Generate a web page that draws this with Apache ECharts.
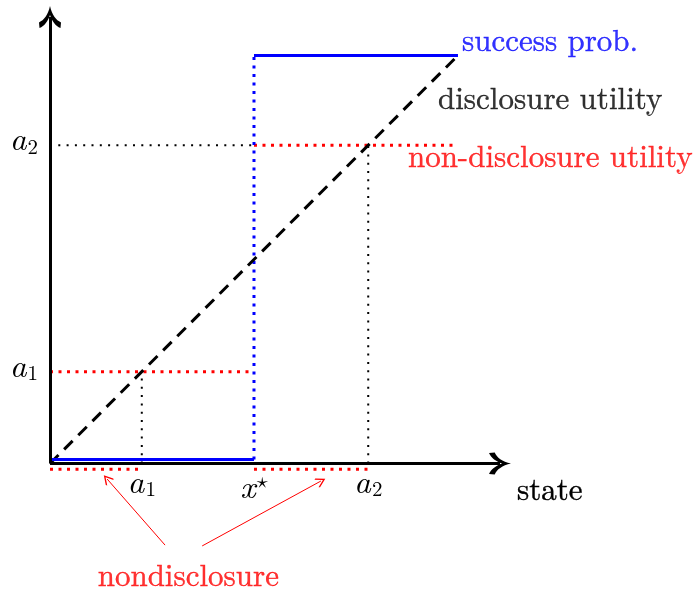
<!DOCTYPE html>
<html><head><meta charset="utf-8">
<script src="https://cdn.jsdelivr.net/npm/echarts@6/dist/echarts.min.js"></script>
<style>html,body{margin:0;padding:0;background:#fff}#c{width:695px;height:590px}</style>
</head><body><div id="c"></div>
<script>
// ---- data (state units) ----
const a1 = 2.25, a2 = 7.8, xStar = 5, topV = 10;
const axisExtent = [11.03, 10.94];            // x max, y max
const xTickValues = [a1, xStar, a2];
const yTickValues = [a1, a2];
const successLow  = [[0, 0.1], [xStar, 0.1]];
const successJump = [[xStar, 0.1], [xStar, topV]];
const successHigh = [[xStar, topV], [topV, topV]];
const disclosure  = [[0, 0], [topV, topV]];
const nondiscLow  = [[0, a1], [xStar, a1]];
const nondiscHigh = [[xStar, a2], [9.9, a2]];
const nondiscRegion1 = [[0, -0.14], [a1, -0.14]];
const nondiscRegion2 = [[xStar, -0.14], [a2, -0.14]];
const guideA1 = [[a1, 0], [a1, a1]];
const guideA2v = [[a2, 0], [a2, a2]];
const guideA2h = [[0, a2], [xStar, a2]];
const noteLabel = [3.39, -2.78];
const noteArrow1 = [[2.82, -2.0], [1.40, -0.38]];
const noteArrow2 = [[3.73, -2.02], [6.64, -0.43]];

const FONT = 'Latin Modern Roman';
const FS = 31;
const chevron = 'path://M11,0 C13,4 17,6.5 22,7.4 L21.5,10 C16.5,9 13,6.8 11,4 C9,6.8 5.5,9 0.5,10 L0,7.4 C5,6.5 9,4 11,0 Z';
const smallHead = 'path://M5,0 L10,5.2 L9.2,6 L5,1.6 L0.8,6 L0,5.2 Z';

function near(a, b) { return Math.abs(a - b) < 1e-6; }
const heavy = function (c) { return { textBorderColor: c, textBorderWidth: 0.4 }; };
const richLab = {
  i: { fontFamily: FONT, fontStyle: 'italic', fontSize: 33, lineHeight: 31, color: '#000', padding: [0, 1, 4, 0] },
  ix: { fontFamily: FONT, fontStyle: 'italic', fontSize: 33, lineHeight: 31, color: '#000', padding: [5, 0, 0, 0] },
  sub: { fontFamily: FONT, fontSize: 21, lineHeight: 21, color: '#000', verticalAlign: 'bottom' },
  sup: { fontFamily: 'Latin Modern Math, DejaVu Sans', fontSize: 22, lineHeight: 22, color: '#000', verticalAlign: 'top', padding: [1, 0, 0, 1] }
};

function lineSeries(data, color, width, type, z) {
  return {
    type: 'line', data: data, symbol: 'none', showSymbol: false, clip: false, silent: true,
    animation: false, z: z || 2,
    lineStyle: { color: color, width: width, type: type, cap: 'butt' }
  };
}
function textPoint(pt, text, color, offset, pos) {
  return {
    type: 'scatter', data: [pt], symbolSize: 0, clip: false, silent: true, animation: false, z: 10,
    label: { show: true, position: pos || 'right', distance: 0, offset: offset,
      formatter: '{t|' + text + '}',
      rich: { t: Object.assign({ fontFamily: FONT, fontSize: FS, lineHeight: FS, color: color }, heavy(color)) } }
  };
}

const chart = echarts.init(document.getElementById('c'), null, { renderer: 'canvas' });
chart.setOption({
  backgroundColor: '#fff',
  animation: false,
  textStyle: { fontFamily: FONT, color: '#000' },
  grid: { left: 50, right: 195, top: 17.1, bottom: 126.5, containLabel: false },
  xAxis: {
    type: 'value', min: 0, max: axisExtent[0],
    name: '{t|state}', nameLocation: 'end', nameGap: 17,
    nameTextStyle: { fontFamily: FONT, fontSize: FS, color: '#000', align: 'left', verticalAlign: 'top', padding: [12, 0, 0, 0],
      rich: { t: Object.assign({ fontFamily: FONT, fontSize: FS, lineHeight: FS, color: '#000' }, heavy('#000')) } },
    axisLine: { show: false }, axisTick: { show: false }, splitLine: { show: false },
    axisLabel: {
      customValues: xTickValues, margin: 6,
      formatter: function (v) {
        if (near(v, xStar)) return '{ix|x}{sup|⋆}';
        if (near(v, a1)) return '{i|a}{sub|1}';
        return '{i|a}{sub|2}';
      },
      rich: richLab
    }
  },
  yAxis: {
    type: 'value', min: 0, max: axisExtent[1],
    axisLine: { show: false }, axisTick: { show: false }, splitLine: { show: false },
    axisLabel: {
      customValues: yTickValues, margin: 12, padding: [0, 0, 6, 0],
      formatter: function (v) { return near(v, a1) ? '{i|a}{sub|1}' : '{i|a}{sub|2}'; },
      rich: richLab
    }
  },
  series: [
    lineSeries(guideA1, '#000', 2, [2, 6.3], 1),
    lineSeries(guideA2v, '#000', 2, [2, 6.3], 1),
    lineSeries(guideA2h, '#000', 2, [2, 6.3], 1),
    lineSeries(nondiscLow, '#ff0000', 3, [3, 5.5], 2),
    lineSeries(nondiscHigh, '#ff0000', 3, [3, 5.5], 2),
    lineSeries(nondiscRegion1, '#ff0000', 3, [3, 5.5], 2),
    lineSeries(nondiscRegion2, '#ff0000', 3, [3, 5.5], 2),
    lineSeries(successJump, '#0000ff', 3, [3, 5.5], 3),
    lineSeries(disclosure, '#000', 3, [12, 8], 4),
    lineSeries(successLow, '#0000ff', 3, 'solid', 5),
    lineSeries(successHigh, '#0000ff', 3, 'solid', 5),
    {
      type: 'lines', coordinateSystem: 'cartesian2d', clip: false, silent: true, animation: false, z: 6,
      symbol: ['none', chevron], symbolSize: 22, symbolKeepAspect: true,
      lineStyle: { color: '#000', width: 3, opacity: 1, curveness: 0 },
      data: [{ coords: [[0, 0], [axisExtent[0], 0]] }, { coords: [[0, 0], [0, axisExtent[1]]] }]
    },
    {
      type: 'lines', coordinateSystem: 'cartesian2d', clip: false, silent: true, animation: false, z: 6,
      symbol: ['none', smallHead], symbolSize: 10, symbolKeepAspect: true,
      lineStyle: { color: '#ff0000', width: 1, opacity: 1, curveness: 0 },
      data: [{ coords: noteArrow1 }, { coords: noteArrow2 }]
    },
    textPoint(successHigh[1], 'success prob.', '#0000ff', [4, -14]),
    textPoint(disclosure[1], 'disclosure utility', '#000', [-20, 44]),
    textPoint(nondiscHigh[1], 'non-disclosure utility', '#ff0000', [-46, 12]),
    textPoint(noteLabel, 'nondisclosure', '#ff0000', [0, 0], 'inside')
  ]
});
</script></body></html>
